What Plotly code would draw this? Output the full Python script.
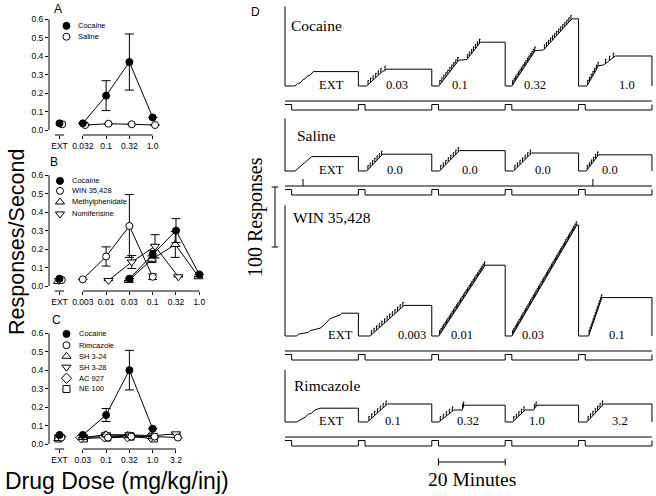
import plotly.graph_objects as go

W, H = 656, 496

# ---------------- Panel A data ----------------
A_DOSES = ["0.032", "0.1", "0.32", "1.0"]
A_COCAINE_EXT = 0.036
A_COCAINE = [0.036, 0.186, 0.368, 0.068]
A_COCAINE_ERR = [None, 0.081, 0.152, None]
A_SALINE_EXT = 0.031
A_SALINE = [0.027, 0.034, 0.031, 0.027]
A_SALINE_ERR = [None, None, None, None]

# ---------------- Panel B data ----------------
B_DOSES = ["0.003", "0.01", "0.03", "0.1", "0.32", "1.0"]
B_COCAINE_EXT = 0.040
B_COCAINE = [None, None, 0.040, 0.172, 0.300, 0.063]
B_COCAINE_ERR = [None, None, None, 0.020, 0.065, None]
B_WIN_EXT = 0.033
B_WIN = [0.036, 0.160, 0.325, 0.050, None, None]
B_WIN_ERR = [None, 0.052, 0.170, 0.015, None, None]
B_MPH_EXT = 0.025
B_MPH = [None, None, 0.030, 0.145, 0.225, 0.050]
B_MPH_ERR = [None, None, None, 0.018, 0.070, None]
B_NOMI_EXT = 0.030
B_NOMI = [None, 0.030, 0.130, 0.215, 0.050, None]
B_NOMI_ERR = [None, None, 0.035, 0.063, None, None]

# ---------------- Panel C data ----------------
C_DOSES = ["0.03", "0.1", "0.32", "1.0", "3.2"]
C_COCAINE_EXT = 0.049
C_COCAINE = [0.049, 0.157, 0.400, 0.083, None]
C_COCAINE_ERR = [None, 0.035, 0.107, None, None]
C_RIM_EXT = 0.035
C_RIM = [None, 0.035, 0.040, 0.040, 0.035]
C_SH324_EXT = 0.030
C_SH324 = [0.035, 0.050, 0.045, 0.040, None]
C_SH328_EXT = 0.040
C_SH328 = [None, 0.050, 0.050, 0.045, 0.055]
C_AC927_EXT = 0.040
C_AC927 = [0.035, 0.040, 0.040, 0.040, None]
C_NE100_EXT = 0.030
C_NE100 = [0.030, 0.035, 0.040, 0.030, None]
C_NOERR = [None, None, None, None, None]

# ---------------- Panel D data (cumulative records) ----------------
COMPONENT_MIN = 22
TIMEOUT_MIN = 2
SCALE_RESPONSES = 100
SCALE_MINUTES = 20

COC_LABELS = ["EXT", "0.03", "0.1", "0.32", "1.0"]
COC_T = [[3, 3.8, 4.5, 5.3, 6, 6.8, 7.5, 8.5], [2.5, 7.3, 7.8, 8.3],
         [2.1, 8.1, 10.5, 14.6], [2, 9, 11.5, 20, 21.3], [2.5, 6, 7.5, 11]]
COC_N = [[0, 4, 5, 10, 12, 17, 18, 24], [0, 25, 25, 28],
         [0, 43, 44, 73], [0, 59, 60, 112, 112], [0, 34, 35, 50]]
COC_INF = [0, 7, 17, 30, 10]
COC_TOP = 133

SAL_LABELS = ["EXT", "0.0", "0.0", "0.0", "0.0"]
SAL_T = [[3, 4, 4.7, 5.7, 6.3, 8], [2.5, 7.3], [2.3, 8.3], [2.5, 7.9], [2.3, 6]]
SAL_N = [[0, 5, 7, 13, 16, 24], [0, 28], [0, 34], [0, 30], [0, 27]]
SAL_INF = [0, 7, 8, 7, 6]
SAL_TOP = 88
SAL_EVENTS = [5.4, 92.3]

WIN_LABELS = ["EXT", "0.003", "0.01", "0.03", "0.1"]
WIN_T = [[3.5, 4, 7, 7.5, 10.5, 11.5, 13.5, 15, 16.5, 17], [3.5, 13.7],
         [2.1, 16], [2, 21.5], [3, 7]]
WIN_N = [[0, 3, 6, 9, 13, 17, 29, 32, 35, 38], [0, 51], [0, 118], [0, 185], [0, 64]]
WIN_INF = [0, 13, 33, 50, 13]
WIN_TOP = 218

RIM_LABELS = ["EXT", "0.1", "0.32", "1.0", "3.2"]
RIM_T = [[3.5, 5, 6, 7, 8, 9, 10.5], [2.7, 8.7], [2.1, 6.6, 9.1, 9.6],
         [2.2, 6, 8.5, 9.5], [2.5, 7.5]]
RIM_N = [[0, 5, 8, 13, 15, 20, 23], [0, 30], [0, 20, 20, 28], [0, 20, 20, 28], [0, 30]]
RIM_INF = [0, 7, 7, 7, 7]
RIM_TOP = 87

# ---------------- layout constants ----------------
SANS = "Liberation Sans, Arial, sans-serif"
SERIF = "Liberation Serif, Times New Roman, serif"
BLACK = "#000000"

X_LEFT_PX = 49
X_PX_PER_IDX = 23.3
X_RANGE = [-0.45, 6.6]
Y_PX_PER_UNIT = 184.7
Y_RANGE = [-0.027, 0.62]
PANEL_BOTTOM_PX = [135, 291, 449]

D_X0_PX = 285.0
D_PX_PER_MIN = 3.336
D_PX_PER_RESP = 0.6
D_DOMAIN_PX = [240, 656]
REC_BASE_PX = {"coc": 86, "sal": 171, "win": 336, "rim": 422}


def xpaper(p):
    return p / W


def ypaper(p):
    return 1 - p / H


def d_resp(page_y):
    return (H - page_y) / D_PX_PER_RESP


fig = go.Figure()

# ---------------- left axes ----------------
x_right_px = X_LEFT_PX + (X_RANGE[1] - X_RANGE[0]) * X_PX_PER_IDX
for i, bottom in enumerate(PANEL_BOTTOM_PX):
    top = bottom - (Y_RANGE[1] - Y_RANGE[0]) * Y_PX_PER_UNIT
    sfx = "" if i == 0 else str(i + 1)
    doses = [A_DOSES, B_DOSES, C_DOSES][i]
    fig.layout["xaxis" + sfx] = dict(
        domain=[xpaper(X_LEFT_PX), xpaper(x_right_px)], range=X_RANGE,
        anchor="y" + sfx, showgrid=False, zeroline=False, showline=False,
        tickmode="array", tickvals=list(range(len(doses) + 1)),
        ticktext=["EXT"] + doses, ticks="outside", ticklen=3, tickwidth=1,
        tickcolor=BLACK, tickfont=dict(family=SANS, size=8.5, color=BLACK),
    )
    fig.layout["yaxis" + sfx] = dict(
        domain=[ypaper(bottom), ypaper(top)], range=Y_RANGE,
        anchor="x" + sfx, showgrid=False, zeroline=False, showline=False,
        tickmode="array", tickvals=[0, 0.1, 0.2, 0.3, 0.4, 0.5, 0.6],
        ticktext=["0.0", "0.1", "0.2", "0.3", "0.4", "0.5", "0.6"],
        ticks="outside", ticklen=3, tickwidth=1, tickcolor=BLACK,
        tickfont=dict(family=SANS, size=8.5, color=BLACK),
    )
    xr = "x" + sfx
    yr = "y" + sfx
    fig.add_shape(type="line", xref=xr + " domain", yref=yr, x0=0, x1=0,
                  y0=0, y1=0.6, line=dict(color=BLACK, width=1))
    fig.add_shape(type="line", xref=xr, yref=yr + " domain", x0=-0.2, x1=0.2,
                  y0=0, y1=0, line=dict(color=BLACK, width=1))
    fig.add_shape(type="line", xref=xr, yref=yr + " domain", x0=1, x1=len(doses),
                  y0=0, y1=0, line=dict(color=BLACK, width=1))

SYMBOLS = {
    "filled": dict(symbol="circle", color=BLACK, size=7),
    "circle": dict(symbol="circle", color="white", size=7),
    "up": dict(symbol="triangle-up", color="white", size=8),
    "down": dict(symbol="triangle-down", color="white", size=8),
    "diamond": dict(symbol="diamond", color="white", size=8),
    "square": dict(symbol="square", color="white", size=7),
}


def add_series(ax, ext, vals, errs, style, xoff=0.0, ext_off=0.0):
    sfx = "" if ax == 1 else str(ax)
    st = SYMBOLS[style]
    mk = dict(symbol=st["symbol"], size=st["size"], color=st["color"],
              line=dict(color=BLACK, width=1))
    xs = [i + 1 + xoff for i, v in enumerate(vals) if v is not None]
    ys = [v for v in vals if v is not None]
    es = [errs[i] for i, v in enumerate(vals) if v is not None]
    fig.add_trace(go.Scatter(
        x=xs, y=ys, mode="lines+markers", xaxis="x" + sfx, yaxis="y" + sfx,
        line=dict(color=BLACK, width=1), marker=mk, showlegend=False,
        error_y=dict(type="data", array=es, visible=True, color=BLACK,
                     thickness=1, width=4.5),
        cliponaxis=False))
    fig.add_trace(go.Scatter(
        x=[0 + ext_off], y=[ext], mode="markers", xaxis="x" + sfx,
        yaxis="y" + sfx, marker=mk, showlegend=False, cliponaxis=False))


def add_legend(ax, names, styles, x_mark, x_text, ys):
    sfx = "" if ax == 1 else str(ax)
    for name, style, yv in zip(names, styles, ys):
        st = SYMBOLS[style]
        fig.add_trace(go.Scatter(
            x=[x_mark], y=[yv], mode="markers", xaxis="x" + sfx, yaxis="y" + sfx,
            marker=dict(symbol=st["symbol"], size=st["size"], color=st["color"],
                        line=dict(color=BLACK, width=1)),
            showlegend=False, cliponaxis=False))
        fig.add_annotation(x=x_text, y=yv, xref="x" + sfx, yref="y" + sfx,
                           text=name, showarrow=False, xanchor="left",
                           yanchor="middle",
                           font=dict(family=SANS, size=7.5, color=BLACK))


# Panel A
add_series(1, A_SALINE_EXT, A_SALINE, A_SALINE_ERR, "circle", 0.1, 0.12)
add_series(1, A_COCAINE_EXT, A_COCAINE, A_COCAINE_ERR, "filled")
add_legend(1, ["Cocaine", "Saline"], ["filled", "circle"], 0.3, 0.7, [0.564, 0.505])

# Panel B
add_series(2, B_MPH_EXT, B_MPH, B_MPH_ERR, "up", -0.03, -0.06)
add_series(2, B_NOMI_EXT, B_NOMI, B_NOMI_ERR, "down", 0.1, -0.02)
add_series(2, B_WIN_EXT, B_WIN, B_WIN_ERR, "circle", 0.0, 0.1)
add_series(2, B_COCAINE_EXT, B_COCAINE, B_COCAINE_ERR, "filled")
add_legend(2, ["Cocaine", "WIN 35,428", "Methylphenidate", "Nomifensine"],
           ["filled", "circle", "up", "down"], 0.02, 0.45,
           [0.569, 0.515, 0.455, 0.39])

# Panel C
add_series(3, C_NE100_EXT, C_NE100, C_NOERR, "square", 0.05, -0.05)
add_series(3, C_AC927_EXT, C_AC927, C_NOERR, "diamond", -0.08, 0.05)
add_series(3, C_SH328_EXT, C_SH328, C_NOERR, "down", 0.0, 0.0)
add_series(3, C_SH324_EXT, C_SH324, C_NOERR, "up", 0.0, -0.05)
add_series(3, C_RIM_EXT, C_RIM, C_NOERR, "circle", 0.08, 0.08)
add_series(3, C_COCAINE_EXT, C_COCAINE, C_COCAINE_ERR, "filled")
add_legend(3, ["Cocaine", "Rimcazole", "SH 3-24", "SH 3-28", "AC 927", "NE 100"],
           ["filled", "circle", "up", "down", "diamond", "square"], 0.3, 0.76,
           [0.596, 0.535, 0.475, 0.416, 0.356, 0.298])

# ---------------- Panel D ----------------
d_range_x = [(D_DOMAIN_PX[0] - D_X0_PX) / D_PX_PER_MIN,
             (D_DOMAIN_PX[1] - D_X0_PX) / D_PX_PER_MIN]
fig.layout["xaxis4"] = dict(domain=[xpaper(D_DOMAIN_PX[0]), xpaper(D_DOMAIN_PX[1])],
                            range=d_range_x, anchor="y4", visible=False)
fig.layout["yaxis4"] = dict(domain=[0, 1], range=[0, H / D_PX_PER_RESP],
                            anchor="x4", visible=False)

EV_TOP_PX, EV_HIGH_PX, EV_LOW_PX = 15, 18.5, 24
HATCH_DT, HATCH_DN = 0.1, 7.5


def draw_record(key, T, N, INF, TOP, LABELS, label_t, name, name_t, name_dy_px,
                events=()):
    base = d_resp(REC_BASE_PX[key])
    n_comp = len(T)
    xs, ys = [0], [base + TOP]
    hx, hy = [], []
    for k in range(n_comp):
        t0 = k * COMPONENT_MIN
        xs.append(t0)
        ys.append(base)
        for t, n in zip(T[k], N[k]):
            xs.append(t0 + t)
            ys.append(base + n)
        xs += [t0 + COMPONENT_MIN, t0 + COMPONENT_MIN]
        ys += [base + N[k][-1], base]
        total = N[k][-1]
        for j in range(INF[k]):
            c = total * (j + 0.5) / INF[k]
            for i in range(len(N[k]) - 1):
                n_a, n_b = N[k][i], N[k][i + 1]
                if n_b > n_a and n_a <= c <= n_b:
                    t = T[k][i] + (c - n_a) / (n_b - n_a) * (T[k][i + 1] - T[k][i])
                    hx += [t0 + t, t0 + t, t0 + t + HATCH_DT * 3, None]
                    hy += [base + c, base + c + HATCH_DN, base + c + HATCH_DN * 0.9, None]
                    break
        fig.add_annotation(x=t0 + label_t[k], y=base + 1, xref="x4", yref="y4",
                           text=LABELS[k], showarrow=False, xanchor="center",
                           yanchor="middle",
                           font=dict(family=SERIF, size=12.5, color=BLACK))
    fig.add_trace(go.Scatter(x=xs, y=ys, mode="lines", xaxis="x4", yaxis="y4",
                             line=dict(color=BLACK, width=1), showlegend=False))
    fig.add_trace(go.Scatter(x=hx, y=hy, mode="lines", xaxis="x4", yaxis="y4",
                             line=dict(color=BLACK, width=1), showlegend=False))
    # event pens
    t_end = n_comp * COMPONENT_MIN
    ev_top = base - EV_TOP_PX / D_PX_PER_RESP
    hi = base - EV_HIGH_PX / D_PX_PER_RESP
    lo = base - EV_LOW_PX / D_PX_PER_RESP
    fig.add_trace(go.Scatter(x=[0, t_end], y=[ev_top, ev_top], mode="lines",
                             xaxis="x4", yaxis="y4",
                             line=dict(color=BLACK, width=1), showlegend=False))
    px_, py_ = [], []
    for k in range(n_comp):
        t0 = k * COMPONENT_MIN
        px_ += [t0, t0 + TIMEOUT_MIN, t0 + TIMEOUT_MIN, t0 + COMPONENT_MIN]
        py_ += [hi, hi, lo, lo]
    px_ += [t_end]
    py_ += [hi]
    fig.add_trace(go.Scatter(x=px_, y=py_, mode="lines", xaxis="x4", yaxis="y4",
                             line=dict(color=BLACK, width=1), showlegend=False))
    ex, ey = [], []
    for e in events:
        ex += [e, e, None]
        ey += [ev_top, ev_top + 7 / D_PX_PER_RESP, None]
    if ex:
        fig.add_trace(go.Scatter(x=ex, y=ey, mode="lines", xaxis="x4", yaxis="y4",
                                 line=dict(color=BLACK, width=1), showlegend=False))
    fig.add_annotation(x=name_t, y=base + name_dy_px / D_PX_PER_RESP, xref="x4",
                       yref="y4", text=name, showarrow=False, xanchor="left",
                       yanchor="middle", font=dict(family=SERIF, size=15.5, color=BLACK))


draw_record("coc", COC_T, COC_N, COC_INF, COC_TOP, COC_LABELS,
            [14, 11.5, 8.5, 8.9, 14.4], "Cocaine", 1.3, 61)
draw_record("sal", SAL_T, SAL_N, SAL_INF, SAL_TOP, SAL_LABELS,
            [14, 11, 11.4, 11.3, 9.4], "Saline", 3.0, 36, SAL_EVENTS)
draw_record("win", WIN_T, WIN_N, WIN_INF, WIN_TOP, WIN_LABELS,
            [16.5, 16, 9, 8.3, 11.4], "WIN 35,428", 1.8, 119)
draw_record("rim", RIM_T, RIM_N, RIM_INF, RIM_TOP, RIM_LABELS,
            [14, 10.4, 10.9, 9.4, 12.4], "Rimcazole", 2.2, 37)

# scale bars
sb_x = (275 - D_X0_PX) / D_PX_PER_MIN
sb_y0 = d_resp(247)
cap_t = 1.0
fig.add_trace(go.Scatter(
    x=[sb_x - cap_t, sb_x + cap_t, None, sb_x, sb_x, None, sb_x - cap_t, sb_x + cap_t],
    y=[sb_y0, sb_y0, None, sb_y0, sb_y0 + SCALE_RESPONSES, None,
       sb_y0 + SCALE_RESPONSES, sb_y0 + SCALE_RESPONSES],
    mode="lines", xaxis="x4", yaxis="y4", line=dict(color=BLACK, width=1),
    showlegend=False, cliponaxis=False))
fig.add_annotation(x=(255 - D_X0_PX) / D_PX_PER_MIN, y=sb_y0 + SCALE_RESPONSES / 2,
                   xref="x4", yref="y4", text="100 Responses", textangle=-90,
                   showarrow=False, xanchor="center", yanchor="middle",
                   font=dict(family=SERIF, size=20, color=BLACK))

tb_x0 = 2 * COMPONENT_MIN + TIMEOUT_MIN
tb_y = d_resp(462)
cap_r = 3.5 / D_PX_PER_RESP
fig.add_trace(go.Scatter(
    x=[tb_x0, tb_x0, None, tb_x0, tb_x0 + SCALE_MINUTES, None,
       tb_x0 + SCALE_MINUTES, tb_x0 + SCALE_MINUTES],
    y=[tb_y - cap_r, tb_y + cap_r, None, tb_y, tb_y, None, tb_y - cap_r, tb_y + cap_r],
    mode="lines", xaxis="x4", yaxis="y4", line=dict(color=BLACK, width=1),
    showlegend=False))
fig.add_annotation(x=tb_x0 + SCALE_MINUTES / 2, y=d_resp(479), xref="x4", yref="y4",
                   text="20 Minutes", showarrow=False, xanchor="center",
                   yanchor="middle", font=dict(family=SERIF, size=19.5, color=BLACK))

# ---------------- panel letters & titles ----------------
for letter, (lx, ly) in {"A": (58, 9), "B": (54, 162), "C": (57, 320),
                         "D": (255, 12)}.items():
    fig.add_annotation(x=xpaper(lx), y=ypaper(ly), xref="paper", yref="paper",
                       text=letter, showarrow=False, xanchor="center",
                       yanchor="middle", font=dict(family=SANS, size=12, color=BLACK))

fig.add_annotation(x=xpaper(17), y=ypaper(242), xref="paper", yref="paper",
                   text="Responses/Second", textangle=-90, showarrow=False,
                   xanchor="center", yanchor="middle",
                   font=dict(family=SANS, size=21.5, color=BLACK))
fig.add_annotation(x=xpaper(117), y=ypaper(481), xref="paper", yref="paper",
                   text="Drug Dose (mg/kg/inj)", showarrow=False,
                   xanchor="center", yanchor="middle",
                   font=dict(family=SANS, size=23, color=BLACK))

fig.update_layout(width=W, height=H, margin=dict(l=0, r=0, t=0, b=0),
                  paper_bgcolor="white", plot_bgcolor="white", showlegend=False)

fig.write_html("out.html", config={"displayModeBar": False},
               post_script="document.body.style.margin='0px';"
                           "document.body.style.padding='0px';")
